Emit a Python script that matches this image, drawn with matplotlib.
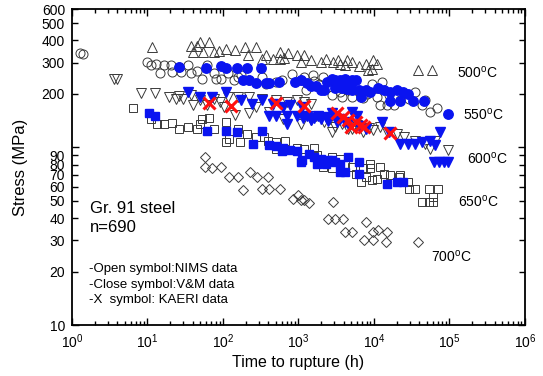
import numpy as np
import matplotlib
matplotlib.use("Agg")
import matplotlib.pyplot as plt
from matplotlib.ticker import FixedLocator, FixedFormatter, LogLocator, NullFormatter, LogFormatterMathtext

plt.rcParams['font.family'] = ['Liberation Sans', 'DejaVu Sans']
plt.rcParams['mathtext.fontset'] = 'custom'
plt.rcParams['mathtext.rm'] = 'Liberation Sans'
plt.rcParams['mathtext.it'] = 'Liberation Sans:italic'

# 500C, NIMS (open triangles)
t500_nims = [11.6, 38, 50, 65, 40, 55, 76, 110, 143, 197, 270, 214, 333, 458, 577, 736, 959,
             1180, 1070, 565, 2350, 2900, 3590, 4200, 5200, 7900, 9800, 10900, 8400, 9300,
             38600, 59000, 2010, 1460, 4400, 371, 45, 88, 640, 3300, 6400]
s500_nims = [366, 374, 391, 391, 343, 343, 343, 358, 354, 366, 366, 329, 315, 315, 343, 339, 329,
             329, 301, 315, 315, 301, 295, 289, 301, 295, 308, 295, 271, 277,
             271, 271, 301, 308, 308, 329, 372, 350, 320, 310, 285]

# 550C, NIMS (open circles)
t550_nims = [1.26, 1.4, 10, 11.3, 14.8, 16.4, 20.3, 26.5, 34.4, 61.6, 21.3, 27.8, 76, 80, 116,
             159, 176, 218, 370, 510, 820, 1070, 1180, 1540, 2110, 1250, 2750, 3770, 5200, 6400,
             9300, 12800, 10900, 12000, 15000, 18300, 22500, 29500, 43000, 56000, 69000, 48000,
             34500, 20300, 4600, 2480, 3200, 1900, 38, 52, 94, 332, 13, 45, 140, 600, 1600, 7200,
             16000, 3600, 8000]
s550_nims = [339, 333, 301, 289, 262, 289, 289, 283, 289, 289, 265, 265, 262, 243, 262,
             248, 254, 238, 228, 233, 259, 238, 248, 254, 248, 209, 196, 192, 192, 205,
             228, 233, 192, 172, 172, 172, 184, 188, 172, 158, 167, 184,
             205, 192, 209, 218, 223, 228, 262, 243, 243, 248, 296, 270, 240, 240, 235, 190,
             196, 205, 200]

# 550C, V&M (filled circles)
t550_vm = [26.5, 60, 94, 110, 155, 207, 323, 186, 218, 270, 370, 410, 550, 905, 1070, 1310,
           1450, 1970, 2750, 3040, 3590, 4200, 5200, 5800, 3040, 3770, 4450, 5200, 6400, 7900,
           11400, 13500, 16400, 20300, 24000, 28000, 16400, 22500, 33000, 45400, 95000, 6800, 2200,
           2400, 3300, 4900, 1700, 9000]
s550_vm = [283, 279, 285, 279, 279, 279, 279, 238, 238, 230, 230, 230, 233, 233, 238, 230,
           220, 211, 243, 238, 240, 243, 238, 240, 216, 216, 214, 211, 211, 209,
           216, 209, 205, 209, 205, 200, 182, 182, 182, 182, 153, 192, 211,
           232, 228, 226, 222, 205]

# 600C, NIMS (open down triangles)
t600_nims = [3.55, 8.3, 12.6, 19.2, 23.7, 29.4, 38, 50, 76, 116, 159, 218, 333, 510, 700, 960,
             1180, 1450, 40, 62, 104, 270, 410, 630, 1070, 1450, 2200, 3040, 3770, 5200, 7200,
             9800, 12000, 15000, 20300, 25000, 34500, 48000, 65000, 95000, 56000, 218, 143,
             2750, 4600, 3.9, 26, 90, 1700, 2600, 6000, 8500]
s600_nims = [243, 202, 202, 192, 188, 188, 196, 184, 188, 192, 192, 192, 188, 184, 180, 184,
             180, 176, 172, 172, 169, 169, 158, 145, 136, 142, 139, 130, 136, 127, 122,
             125, 130, 122, 119, 114, 109, 105, 109, 96, 98, 155, 152,
             122, 127, 243, 195, 180, 150, 145, 133, 128]

# 600C, V&M (filled down triangles)
t600_vm = [34, 50, 72, 110, 176, 240, 333, 458, 630, 780, 1100, 410, 510, 700, 960, 1310, 1790,
           2350, 2750, 3590, 4200, 5200, 6000, 4600, 6400, 7900, 12800, 15700, 22500, 28000,
           34500, 43000, 65000, 56000, 62000, 72000, 85000, 97000, 75000, 1450, 700, 3200,
           1600, 2000, 2500, 1150]
s600_vm = [205, 192, 192, 205, 184, 176, 184, 176, 169, 172, 169, 151, 151, 136, 151, 151, 151,
           148, 155, 145, 139, 158, 151, 136, 131, 127, 139, 122, 105, 105,
           105, 107, 103, 109, 83, 83, 83, 83, 122, 142, 151, 139,
           146, 144, 141, 146]

# 600C, KAERI (crosses)
t600_kaeri = [65, 126, 510, 1180, 3200, 3950, 4600, 5800, 6800, 4900, 16400, 7500]
s600_kaeri = [177, 170, 177, 170, 155, 149, 142, 139, 133, 130, 120, 130]

# 650C, NIMS (open squares)
t650_nims = [6.5, 11.3, 13.2, 16.4, 21, 26.5, 34.4, 44.7, 65, 52, 50, 76, 110, 159, 207, 270,
             122, 110, 168, 390, 350, 510, 660, 960, 1180, 1630, 510, 1780, 2200, 2750, 3590,
             4200, 2110, 2750, 5200, 7200, 8900, 12000, 5800, 7900, 10900, 13500, 16400, 21500,
             22500, 28000, 34500, 29500, 53000, 71000, 43000, 53000, 61000, 61000, 9300, 8900, 6800]
s650_nims = [166, 145, 136, 136, 137, 127, 130, 127, 147, 145, 136, 127, 139, 127, 119, 114,
             112, 107, 107, 109, 114, 107, 109, 99.6, 98, 99.6, 98, 90, 84.5, 88, 86,
             81, 77.6, 76, 77.6, 76, 81, 77.6, 71, 68, 66.7, 71, 70, 68,
             70, 63.8, 58.6, 58.6, 58.6, 58.6, 49.3, 49.3, 52.6, 49.3, 65.3, 76, 63.8]

# 650C, V&M (filled squares)
t650_vm = [10.4, 12.4, 62, 110, 155, 250, 333, 410, 510, 630, 780, 600, 960, 1070, 1370, 1120,
           1630, 2010, 2470, 3040, 1780, 2350, 3590, 4600, 6400, 3590, 4200, 6400, 14800,
           20300, 24000, 2750]
s650_vm = [155, 151, 123, 123, 122, 104, 123, 103, 102, 99.6, 96, 95, 95, 83, 92, 85,
           88, 86, 84.5, 83, 81, 81, 81, 88, 83, 72.6, 72.6, 71, 62.5,
           63.8, 63.8, 84.5]

# 700C, NIMS (open diamonds)
t700_nims = [58, 58, 72, 94, 122, 159, 186, 230, 280, 390, 333, 410, 565, 1000, 1070, 1180,
             1390, 2900, 2480, 3040, 3950, 4200, 5200, 7900, 7500, 9800, 9800, 11400, 15000,
             14600, 38600, 860]
s700_nims = [88, 77.6, 76, 77.6, 68, 68, 57.8, 72.6, 68, 68, 58.6, 58.6, 58.6, 53.7, 50.4, 50.4,
             48.3, 49.3, 39.3, 39.3, 39.3, 33.4, 33.2, 38.1, 30, 30, 33.4, 34.2, 33.4,
             29.4, 29.4, 51.5]

temp_labels = ['500$^{\\rm o}$C', '550$^{\\rm o}$C', '600$^{\\rm o}$C', '650$^{\\rm o}$C', '700$^{\\rm o}$C']
temp_label_pos = [(0.894, 0.800), (0.908, 0.666), (0.916, 0.526), (0.897, 0.392), (0.837, 0.215)]

x_ticks = [1e0, 1e1, 1e2, 1e3, 1e4, 1e5, 1e6]
y_ticks = [20, 30, 40, 50, 60, 70, 80, 90, 200, 300, 400, 500, 600]

fig = plt.figure(figsize=(5.43, 3.76), dpi=100)
ax = fig.add_axes([0.1326, 0.1356, 0.834, 0.8404])

edge = '#3a3a3a'
blue = '#0a14f0'
open_kw = dict(linestyle='none', markerfacecolor='none', markeredgecolor=edge, markeredgewidth=0.7)
fill_kw = dict(linestyle='none', color=blue, markeredgecolor=blue)

ax.plot(t500_nims, s500_nims, marker='^', markersize=6.5, **open_kw)
ax.plot(t550_nims, s550_nims, marker='o', markersize=6.5, **open_kw)
ax.plot(t600_nims, s600_nims, marker='v', markersize=6.5, **open_kw)
ax.plot(t650_nims, s650_nims, marker='s', markersize=5.5, **open_kw)
ax.plot(t700_nims, s700_nims, marker='D', markersize=5, **open_kw)
ax.plot(t550_vm, s550_vm, marker='o', markersize=6.8, **fill_kw)
ax.plot(t600_vm, s600_vm, marker='v', markersize=6.8, **fill_kw)
ax.plot(t650_vm, s650_vm, marker='s', markersize=5.8, **fill_kw)
ax.plot(t600_kaeri, s600_kaeri, linestyle='none', marker='x', markersize=9,
        markeredgewidth=2.2, color='#ff1010')

ax.set_xscale('log')
ax.set_yscale('log')
ax.set_xlim(1, 1e6)
ax.set_ylim(10, 600)

ax.xaxis.set_major_locator(FixedLocator(x_ticks))
ax.xaxis.set_major_formatter(LogFormatterMathtext())
ax.xaxis.set_minor_locator(LogLocator(base=10, subs=np.arange(2, 10), numticks=10))
ax.xaxis.set_minor_formatter(NullFormatter())

ax.yaxis.set_major_locator(FixedLocator([10, 100]))
ax.yaxis.set_major_formatter(FixedFormatter(['10', '']))
ax.yaxis.set_minor_locator(FixedLocator(y_ticks))
ax.yaxis.set_minor_formatter(FixedFormatter([str(v) for v in y_ticks]))

ax.tick_params(which='both', direction='in', top=True, right=True, labelsize=10, width=1)
ax.tick_params(which='major', length=5, pad=5)
ax.tick_params(which='minor', length=3, pad=5)
ax.tick_params(axis='y', which='minor', length=4)
for sp in ax.spines.values():
    sp.set_linewidth(1.3)

ax.set_xlabel('Time to rupture (h)', fontsize=11.5, labelpad=3)
ax.set_ylabel('Stress (MPa)', fontsize=12, labelpad=10)

for lab, (px, py) in zip(temp_labels, temp_label_pos):
    ax.text(px, py, lab, transform=ax.transAxes, fontsize=10, ha='center', va='center')

ax.text(0.040, 0.368, 'Gr. 91 steel', transform=ax.transAxes, fontsize=12, va='center')
ax.text(0.040, 0.308, 'n=690', transform=ax.transAxes, fontsize=12, va='center')
notes = ['-Open symbol:NIMS data', '-Close symbol:V&M data', '-X  symbol: KAERI data']
for i, note in enumerate(notes):
    ax.text(0.037, 0.176 - 0.049 * i, note, transform=ax.transAxes, fontsize=9.5, va='center')

fig.savefig('out.png', dpi=100)
